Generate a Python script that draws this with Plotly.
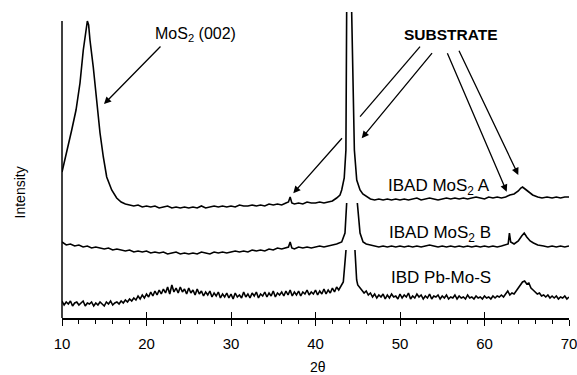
import plotly.graph_objects as go

# ---------------- data (2theta, intensity in arbitrary units, curves stacked) ----------------
theta_a = [10.0, 10.56, 11.15, 11.66, 12.13, 12.52, 12.84, 13.0, 13.15, 13.31, 13.7, 14.1, 14.5, 14.89,
           15.29, 15.88, 16.47, 17.0, 17.5, 18.0, 18.5, 19.0, 19.5, 20.0, 20.5, 21.0, 21.5, 22.0, 22.5,
           23.0, 23.5, 24.0, 24.5, 25.0, 25.5, 26.0, 26.5, 27.0, 27.5, 28.0, 28.5, 29.0, 29.5, 30.0,
           30.5, 31.0, 31.5, 32.0, 32.5, 33.0, 33.5, 34.0, 34.5, 35.0, 35.5, 36.0, 36.5, 36.8, 37.0,
           37.2, 37.5, 38.0, 38.5, 39.0, 39.5, 40.0, 40.5, 41.0, 41.5, 42.0, 42.5, 42.9, 43.1, 43.4,
           43.6, 43.73, 44.0, 44.28, 44.47, 44.6, 44.88, 45.27, 45.6, 46.06, 46.5, 47.0, 47.5, 48.0,
           48.5, 49.0, 49.5, 50.0, 50.5, 51.0, 51.5, 52.0, 52.5, 53.0, 53.5, 54.0, 54.5, 55.0, 55.5,
           56.0, 56.5, 57.0, 57.5, 58.0, 58.5, 59.0, 59.5, 60.0, 60.5, 61.0, 61.5, 62.0, 62.5, 63.0,
           63.5, 64.0, 64.3, 64.5, 64.8, 65.2, 65.7, 66.3, 66.8, 67.4, 68.0, 68.5, 69.0, 69.5, 70.0]
int_a = [146, 165, 188, 208, 235, 268, 291, 297, 293, 278, 251, 218, 185, 161,
         141, 128, 120, 116, 114, 113, 112, 113, 111, 112, 111, 112, 110, 111, 112,
         110, 111, 110, 111, 110, 111, 110, 112, 110, 111, 112, 111, 112, 111, 112,
         111, 113, 112, 112, 113, 112, 113, 112, 114, 113, 114, 113, 115, 116, 121,
         115, 114, 115, 114, 116, 115, 115, 116, 115, 116, 117, 120, 123, 128, 140,
         168, 306, 800, 306, 218, 168, 138, 128, 124, 121, 119, 118, 119, 118,
         119, 118, 119, 118, 119, 118, 119, 120, 118, 119, 120, 119, 118, 119, 120,
         119, 120, 119, 120, 119, 120, 121, 120, 119, 121, 120, 121, 120, 121, 123,
         124, 127, 130, 131, 129, 126, 123, 121, 120, 121, 120, 121, 120, 121, 121]

theta_b = [10.0, 10.5, 11.0, 11.5, 12.0, 12.5, 13.0, 13.5, 14.0, 14.5, 15.0, 15.5, 16.0, 16.5, 17.0,
           17.5, 18.0, 18.5, 19.0, 19.5, 20.0, 20.5, 21.0, 21.5, 22.0, 22.5, 23.0, 23.5, 24.0, 24.5,
           25.0, 25.5, 26.0, 26.5, 27.0, 27.5, 28.0, 28.5, 29.0, 29.5, 30.0, 30.5, 31.0, 31.5, 32.0,
           32.5, 33.0, 33.5, 34.0, 34.5, 35.0, 35.5, 36.0, 36.5, 36.8, 37.0, 37.2, 37.5, 38.0, 38.5,
           39.0, 39.5, 40.0, 40.5, 41.0, 41.5, 42.0, 42.5, 43.1, 43.49, 43.69, 44.3, 44.95, 45.1,
           45.27, 45.63, 46.0, 46.5, 47.0, 47.5, 48.0, 48.5, 49.0, 49.5, 50.0, 50.5, 51.0, 51.5,
           52.0, 52.5, 53.0, 53.5, 54.0, 54.5, 55.0, 55.5, 56.0, 56.5, 57.0, 57.5, 58.0, 58.5, 59.0,
           59.5, 60.0, 60.5, 61.0, 61.5, 62.0, 62.5, 62.8, 62.95, 63.1, 63.5, 64.0, 64.4, 64.7, 65.0,
           65.4, 65.8, 66.3, 67.0, 67.5, 68.0, 68.5, 69.0, 69.5, 70.0]
int_b = [76, 73, 74, 72, 73, 71, 72, 70, 71, 70, 69, 70, 68, 69, 68,
         67, 68, 66, 67, 66, 67, 65, 66, 65, 66, 64, 65, 66, 64, 65,
         64, 65, 64, 66, 65, 64, 66, 65, 66, 65, 66, 67, 66, 67, 66,
         68, 67, 68, 67, 69, 68, 70, 69, 70, 71, 76, 70, 69, 71, 70,
         71, 70, 71, 72, 71, 72, 73, 74, 76, 85, 115, 600, 115, 100,
         85, 76, 74, 73, 72, 71, 72, 71, 72, 71, 72, 71, 72, 71,
         72, 71, 72, 73, 72, 71, 72, 71, 72, 71, 72, 71, 72, 71, 72,
         71, 72, 71, 72, 71, 72, 73, 74, 85, 76, 74, 77, 82, 85, 81,
         77, 75, 73, 72, 71, 72, 71, 72, 71, 72]

theta_c = [10.0, 10.25, 10.5, 10.75, 11.0, 11.25, 11.5, 11.75, 12.0, 12.25, 12.5, 12.75, 13.0, 13.25,
           13.5, 13.75, 14.0, 14.25, 14.5, 14.75, 15.0, 15.25, 15.5, 15.75, 16.0, 16.25, 16.5, 16.75,
           17.0, 17.25, 17.5, 17.75, 18.0, 18.25, 18.5, 18.75, 19.0, 19.25, 19.5, 19.75, 20.0, 20.25,
           20.5, 20.75, 21.0, 21.25, 21.5, 21.75, 22.0, 22.25, 22.5, 22.75, 23.0, 23.25, 23.5, 23.75,
           24.0, 24.25, 24.5, 24.75, 25.0, 25.25, 25.5, 25.75, 26.0, 26.25, 26.5, 26.75, 27.0, 27.25,
           27.5, 27.75, 28.0, 28.25, 28.5, 28.75, 29.0, 29.25, 29.5, 29.75, 30.0, 30.25, 30.5, 30.75,
           31.0, 31.25, 31.5, 31.75, 32.0, 32.25, 32.5, 32.75, 33.0, 33.25, 33.5, 33.75, 34.0, 34.25,
           34.5, 34.75, 35.0, 35.25, 35.5, 35.75, 36.0, 36.25, 36.5, 36.75, 37.0, 37.25, 37.5, 37.75,
           38.0, 38.25, 38.5, 38.75, 39.0, 39.25, 39.5, 39.75, 40.0, 40.25, 40.5, 40.75, 41.0, 41.25,
           41.5, 41.75, 42.0, 42.25, 42.5, 42.75, 43.0, 43.29, 43.61, 44.15, 44.67, 44.87, 45.0, 45.25,
           45.5, 45.75, 46.0, 46.25, 46.5, 46.75, 47.0, 47.25, 47.5, 47.75, 48.0, 48.25, 48.5, 48.75,
           49.0, 49.25, 49.5, 49.75, 50.0, 50.25, 50.5, 50.75, 51.0, 51.25, 51.5, 51.75, 52.0, 52.25,
           52.5, 52.75, 53.0, 53.25, 53.5, 53.75, 54.0, 54.25, 54.5, 54.75, 55.0, 55.25, 55.5, 55.75,
           56.0, 56.25, 56.5, 56.75, 57.0, 57.25, 57.5, 57.75, 58.0, 58.25, 58.5, 58.75, 59.0, 59.25,
           59.5, 59.75, 60.0, 60.25, 60.5, 60.75, 61.0, 61.25, 61.5, 61.75, 62.0, 62.25, 62.5, 62.75,
           63.0, 63.25, 63.5, 63.75, 64.0, 64.25, 64.5, 64.75, 65.0, 65.25, 65.5, 65.75, 66.0, 66.25,
           66.5, 66.75, 67.0, 67.25, 67.5, 67.75, 68.0, 68.25, 68.5, 68.75, 69.0, 69.25, 69.5, 69.75,
           70.0]
int_c = [17, 13, 16, 14, 17, 12, 15, 16, 13, 15, 17, 12, 15, 14,
         16, 12, 15, 13, 16, 14, 12, 16, 14, 17, 13, 15, 16, 14,
         17, 15, 18, 16, 19, 17, 20, 18, 22, 19, 23, 20, 24, 21,
         26, 22, 27, 23, 28, 24, 29, 25, 31, 24, 33, 26, 30, 25,
         31, 26, 29, 24, 30, 25, 28, 23, 29, 24, 27, 22, 26, 23,
         27, 21, 25, 22, 26, 20, 24, 21, 25, 20, 24, 19, 25, 21,
         23, 20, 26, 21, 24, 20, 25, 22, 26, 20, 24, 22, 26, 21,
         25, 22, 27, 21, 25, 23, 26, 22, 27, 23, 28, 22, 26, 23,
         27, 22, 26, 24, 28, 23, 26, 24, 28, 23, 27, 24, 29, 24,
         28, 25, 30, 26, 31, 28, 32, 36, 68, 400, 68, 38, 33, 30,
         28, 25, 27, 23, 25, 21, 24, 20, 23, 21, 24, 19, 23, 20,
         24, 21, 22, 19, 24, 20, 23, 21, 25, 19, 22, 20, 24, 21,
         23, 19, 22, 20, 24, 19, 22, 21, 23, 19, 22, 20, 23, 19,
         21, 20, 23, 19, 22, 20, 21, 19, 23, 20, 21, 19, 22, 20,
         21, 19, 22, 20, 21, 19, 22, 20, 22, 21, 23, 21, 24, 27,
         23, 25, 24, 27, 29, 33, 36, 37, 34, 35, 30, 28, 26, 24,
         25, 22, 23, 21, 23, 20, 22, 20, 22, 19, 21, 20, 22, 19,
         21]

x_ticks = [10, 20, 30, 40, 50, 60, 70]
x_tick_labels = ["10", "20", "30", "40", "50", "60", "70"]

# ---------------- layout constants ----------------
TOP_A = 306      # visible height of the full plot (intensity units)
CLIP_B = 115     # curve B is hidden above curve A
CLIP_C = 68      # curve C is hidden above curve B
FONT = "Liberation Sans, Arial, Helvetica, sans-serif"
LINE = dict(color="black", width=1.6)

fig = go.Figure()
fig.add_trace(go.Scatter(x=theta_c, y=int_c, mode="lines", line=LINE, yaxis="y3", name="IBD Pb-Mo-S"))
fig.add_trace(go.Scatter(x=theta_b, y=int_b, mode="lines", line=LINE, yaxis="y2", name="IBAD MoS2 B"))
fig.add_trace(go.Scatter(x=theta_a, y=int_a, mode="lines", line=LINE, yaxis="y", name="IBAD MoS2 A"))

axis_common = dict(range=[10, 70], tickvals=x_ticks, ticktext=x_tick_labels, showgrid=False,
                   zeroline=False, ticklen=6, tickwidth=1.3, tickcolor="black",
                   minor=dict(dtick=2, tick0=10, ticklen=4, tickwidth=1.1, tickcolor="black", showgrid=False))

fig.update_layout(
    width=577, height=375,
    margin=dict(l=62, r=8, t=12, b=57),
    paper_bgcolor="white", plot_bgcolor="rgba(0,0,0,0)",
    showlegend=False,
    font=dict(family=FONT, color="black"),
    xaxis=dict(**axis_common, ticks="outside", showline=True, linecolor="black", linewidth=1.5,
               tickfont=dict(size=15, family=FONT, color="black"), ticklabelstandoff=5,
               ticklabeloverflow="allow", automargin=False, anchor="y"),
    xaxis2=dict(**axis_common, ticks="inside", overlaying="x", anchor="y", side="bottom",
                showticklabels=False, showline=False, automargin=False),
    yaxis=dict(domain=[0, 1], range=[0, TOP_A], visible=False, fixedrange=True),
    yaxis2=dict(domain=[0, CLIP_B / TOP_A], range=[0, CLIP_B], visible=False, anchor="x"),
    yaxis3=dict(domain=[0, CLIP_C / TOP_A], range=[0, CLIP_C], visible=False, anchor="x"),
)
# dummy trace to activate xaxis2 ticks
fig.add_trace(go.Scatter(x=[10, 70], y=[None, None], xaxis="x2", yaxis="y", mode="lines",
                         hoverinfo="skip", showlegend=False))

# vertical axis line
fig.add_shape(type="line", xref="paper", yref="y", x0=0, x1=0, y0=0, y1=297,
              line=dict(color="black", width=1.5))
# upper part of the first substrate arrow (passes behind the big peak)
fig.add_shape(type="line", xref="x", yref="y", x0=52.37, y0=271.3, x1=45.27, y1=201.3,
              line=dict(color="black", width=1.3))

def arrow(x, y, ax, ay):
    return dict(x=x, y=y, ax=ax, ay=ay, xref="x", yref="y", axref="x", ayref="y", text="",
                showarrow=True, arrowhead=2, arrowsize=1.1, arrowwidth=1.3, arrowcolor="black",
                standoff=0, startstandoff=0)

def label(text, x, y, size=16, bold=False):
    return dict(x=x, y=y, xref="x", yref="y", text=f"<b>{text}</b>" if bold else text,
                showarrow=False, font=dict(size=size, family=FONT, color="black"),
                xanchor="center", yanchor="middle")

annotations = [
    label("MoS<sub>2</sub> (002)", 25.74, 284, size=16),
    label("SUBSTRATE", 56.0, 284, size=15.5, bold=True),
    label("IBAD MoS<sub>2</sub> A", 54.6, 131, size=17),
    label("IBAD MoS<sub>2</sub> B", 54.7, 84, size=17),
    label("IBD Pb-Mo-S", 54.9, 41, size=17),
    arrow(14.97, 214, 21.83, 273),
    arrow(37.37, 124.7, 43.29, 181.3),
    arrow(45.47, 179.7, 53.94, 266.3),
    arrow(62.63, 126.3, 55.53, 266.3),
    arrow(64.0, 143, 56.90, 268.7),
    dict(x=-0.083, y=0.41, xref="paper", yref="paper", text="Intensity", textangle=-90,
         xanchor="center", yanchor="middle",
         showarrow=False, font=dict(size=14, family=FONT, color="black")),
    dict(x=0.505, y=-0.16, xref="paper", yref="paper", text="2θ",
         xanchor="center", yanchor="middle",
         showarrow=False, font=dict(size=14, family=FONT, color="black")),
]
fig.update_layout(annotations=annotations)

fig.write_html("out.html", config={"displayModeBar": False},
               post_script="document.body.style.margin='0';")
